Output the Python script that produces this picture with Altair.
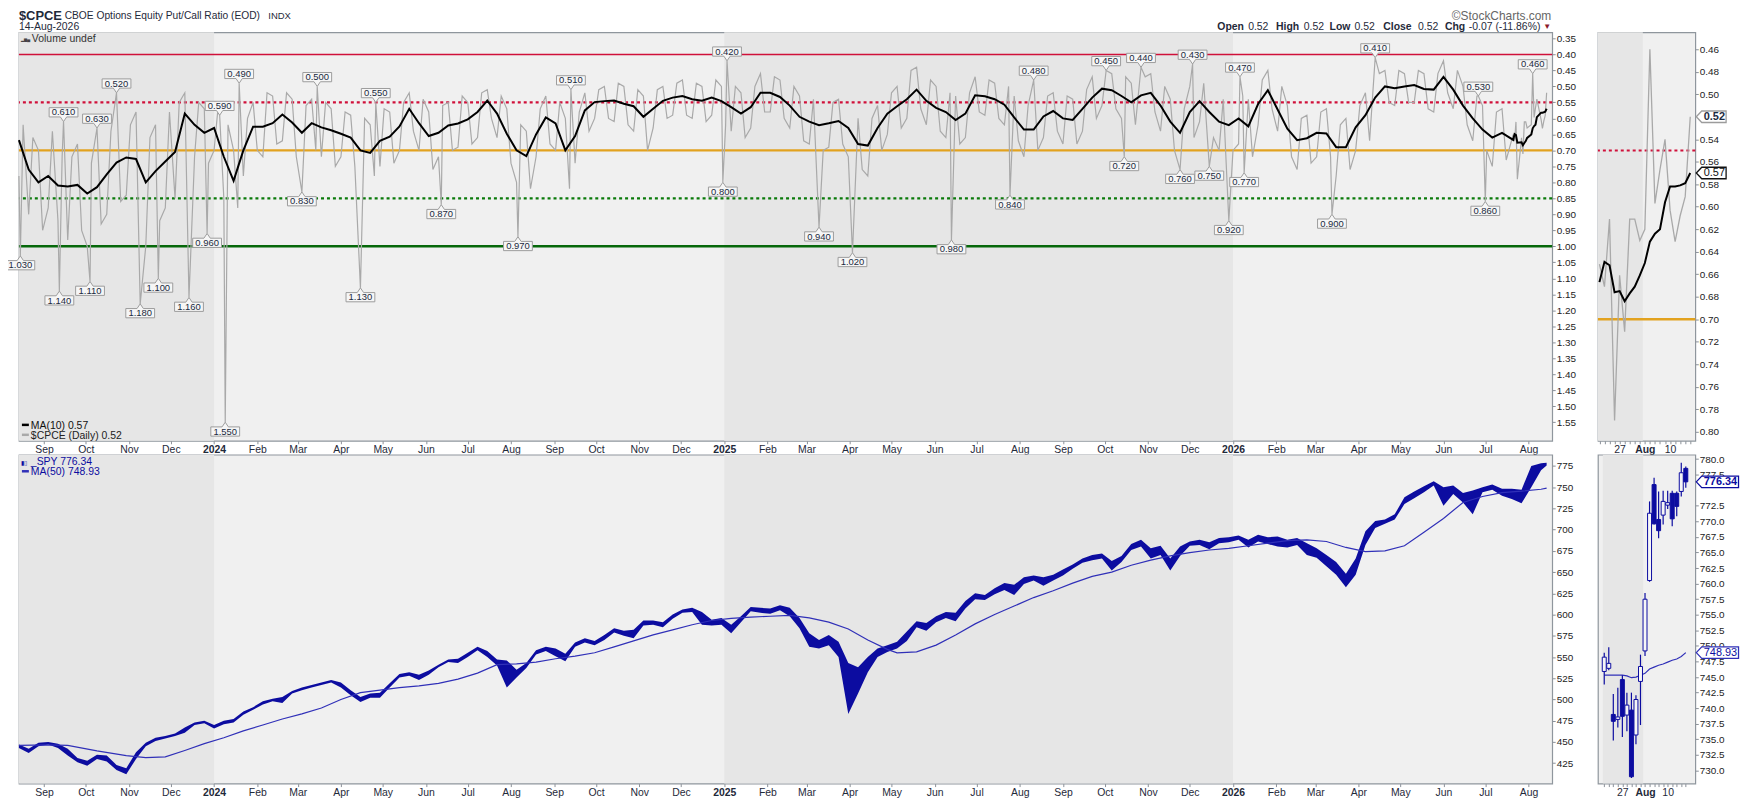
import altair as alt
import pandas as pd

FONT = "Liberation Sans"
NAVY = "#0c0ca0"
MA_BLUE = "#3030b8"
START = pd.Timestamp("2023-08-14")

# ---------------- $CPCE data ----------------
# 10-day MA, weekly readings (Mondays from 2023-08-14)
cpce_ma10_weekly = [
    0.668, 0.76, 0.80, 0.78, 0.81, 0.813, 0.808, 0.835, 0.815, 0.775,
    0.738, 0.722, 0.727, 0.80, 0.765, 0.735, 0.705, 0.585, 0.62, 0.645,
    0.63, 0.72, 0.795, 0.70, 0.626, 0.626, 0.615, 0.588, 0.613, 0.645,
    0.615, 0.628, 0.637, 0.648, 0.66, 0.70, 0.708, 0.67, 0.657, 0.625,
    0.57, 0.615, 0.655, 0.645, 0.622, 0.616, 0.603, 0.58, 0.544, 0.585,
    0.648, 0.70, 0.718, 0.65, 0.597, 0.616, 0.70, 0.655, 0.575, 0.549,
    0.546, 0.544, 0.554, 0.562, 0.595, 0.57, 0.545, 0.535, 0.53, 0.54,
    0.545, 0.535, 0.546, 0.565, 0.585, 0.565, 0.52, 0.52, 0.533, 0.56,
    0.595, 0.61, 0.621, 0.615, 0.608, 0.63, 0.68, 0.685, 0.63, 0.585,
    0.562, 0.54, 0.51, 0.545, 0.567, 0.58, 0.605, 0.585, 0.528, 0.531,
    0.54, 0.557, 0.597, 0.635, 0.635, 0.594, 0.577, 0.60, 0.605, 0.57,
    0.535, 0.507, 0.512, 0.53, 0.55, 0.528, 0.52, 0.56, 0.61, 0.645,
    0.58, 0.546, 0.58, 0.61, 0.621, 0.60, 0.625, 0.555, 0.512, 0.572,
    0.632, 0.668, 0.662, 0.645, 0.647, 0.69, 0.69, 0.628, 0.59, 0.535,
    0.50, 0.506, 0.50, 0.496, 0.508, 0.51, 0.47, 0.51, 0.56, 0.60,
    0.635, 0.66, 0.645]

# daily ratio, two readings per week (Mon, Thu)
cpce_mon = [
    0.78, 0.90, 0.70, 0.88, 0.92, 0.98, 0.68, 1.00, 0.70, 0.90,
    0.60, 0.84, 0.58, 1.00, 0.62, 0.88, 0.85, 0.52, 0.72, 0.57,
    0.70, 0.85, 0.70, 0.78, 0.55, 0.72, 0.53, 0.67, 0.54, 0.74,
    0.54, 0.72, 0.57, 0.72, 0.59, 0.80, 0.62, 0.75, 0.58, 0.70,
    0.52, 0.70, 0.58, 0.72, 0.55, 0.69, 0.55, 0.66, 0.51, 0.66,
    0.57, 0.80, 0.64, 0.72, 0.53, 0.70, 0.60, 0.74, 0.52, 0.60,
    0.50, 0.61, 0.50, 0.64, 0.53, 0.63, 0.50, 0.59, 0.48, 0.60,
    0.50, 0.59, 0.50, 0.64, 0.52, 0.63, 0.46, 0.58, 0.48, 0.63,
    0.53, 0.68, 0.56, 0.69, 0.54, 0.72, 0.60, 0.78, 0.56, 0.65,
    0.50, 0.60, 0.44, 0.62, 0.50, 0.66, 0.53, 0.66, 0.47, 0.59,
    0.49, 0.62, 0.53, 0.72, 0.57, 0.66, 0.52, 0.68, 0.54, 0.64,
    0.47, 0.56, 0.46, 0.60, 0.49, 0.59, 0.46, 0.64, 0.54, 0.73,
    0.50, 0.61, 0.51, 0.70, 0.55, 0.68, 0.54, 0.62, 0.45, 0.64,
    0.56, 0.76, 0.59, 0.72, 0.57, 0.78, 0.60, 0.70, 0.52, 0.60,
    0.45, 0.56, 0.46, 0.55, 0.46, 0.58, 0.42, 0.57, 0.50, 0.67,
    0.56, 0.75, 0.57]
cpce_thu = [
    0.62, 0.66, 0.95, 0.64, 0.72, 0.72, 0.95, 0.74, 0.93, 0.64,
    0.86, 0.62, 0.88, 0.66, 0.92, 0.58, 0.55, 0.66, 0.55, 0.74,
    0.56, 0.62, 0.88, 0.60, 0.70, 0.52, 0.68, 0.52, 0.72, 0.56,
    0.70, 0.55, 0.75, 0.58, 0.75, 0.60, 0.78, 0.57, 0.74, 0.55,
    0.64, 0.54, 0.76, 0.56, 0.70, 0.53, 0.68, 0.52, 0.60, 0.53,
    0.74, 0.62, 0.82, 0.57, 0.68, 0.55, 0.82, 0.58, 0.64, 0.51,
    0.60, 0.49, 0.62, 0.51, 0.70, 0.51, 0.60, 0.49, 0.59, 0.49,
    0.61, 0.48, 0.62, 0.50, 0.66, 0.50, 0.58, 0.47, 0.60, 0.50,
    0.67, 0.54, 0.70, 0.55, 0.68, 0.56, 0.76, 0.60, 0.70, 0.52,
    0.63, 0.45, 0.57, 0.48, 0.64, 0.52, 0.68, 0.52, 0.58, 0.48,
    0.60, 0.50, 0.67, 0.56, 0.70, 0.53, 0.64, 0.53, 0.68, 0.51,
    0.60, 0.46, 0.57, 0.47, 0.62, 0.47, 0.58, 0.50, 0.70, 0.57,
    0.66, 0.49, 0.66, 0.54, 0.70, 0.53, 0.72, 0.48, 0.57, 0.50,
    0.72, 0.60, 0.74, 0.58, 0.72, 0.62, 0.76, 0.56, 0.67, 0.46,
    0.55, 0.45, 0.55, 0.45, 0.57, 0.46, 0.52, 0.45, 0.62, 0.53,
    0.70, 0.58, 0.73]

# labelled extremes
spike_dates = [
    "2023-08-15", "2023-09-12", "2023-09-15", "2023-10-04", "2023-10-09",
    "2023-10-23", "2023-11-09", "2023-11-22", "2023-12-14", "2023-12-27",
    "2024-01-05", "2024-01-09", "2024-01-19", "2024-03-04", "2024-03-15",
    "2024-04-15", "2024-04-26", "2024-06-12", "2024-08-06", "2024-09-13",
    "2024-12-31", "2025-01-03", "2025-03-10", "2025-04-03", "2025-06-13",
    "2025-07-25", "2025-08-11", "2025-10-02", "2025-10-15", "2025-10-27",
    "2025-11-24", "2025-12-03", "2025-12-15", "2025-12-29", "2026-01-06",
    "2026-01-09", "2026-03-13", "2026-04-13", "2026-06-26", "2026-07-01"]
spike_values = [
    1.03, 1.14, 0.61, 1.11, 0.63,
    0.52, 1.18, 1.10, 1.16, 0.96,
    0.59, 1.55, 0.49, 0.83, 0.50,
    1.13, 0.55, 0.87, 0.97, 0.51,
    0.80, 0.42, 0.94, 1.02, 0.98,
    0.84, 0.48, 0.45, 0.72, 0.44,
    0.76, 0.43, 0.75, 0.92, 0.47,
    0.77, 0.90, 0.41, 0.53, 0.86]

# last 19 sessions (also shown in the zoom panel)
last_dates = ["2026-07-21", "2026-07-22", "2026-07-23", "2026-07-24", "2026-07-27",
              "2026-07-28", "2026-07-29", "2026-07-30", "2026-07-31", "2026-08-03",
              "2026-08-04", "2026-08-05", "2026-08-06", "2026-08-07", "2026-08-10",
              "2026-08-11", "2026-08-12", "2026-08-13", "2026-08-14"]
last_cpce = [0.651, 0.671, 0.611, 0.790, 0.661, 0.711, 0.611, 0.611, 0.630, 0.620,
             0.460, 0.597, 0.567, 0.540, 0.603, 0.631, 0.608, 0.591, 0.520]
last_ma10 = [0.667, 0.649, 0.652, 0.676, 0.675, 0.684, 0.677, 0.671, 0.661, 0.650,
             0.631, 0.624, 0.620, 0.596, 0.582, 0.582, 0.581, 0.579, 0.570]

# ---------------- SPY data (weekly low / high) ----------------
spy_low = [
    443, 437, 445, 447, 443, 434, 426, 422, 430, 427,
    417, 412, 430, 445, 451, 454, 457, 461, 470, 472,
    466, 471, 473, 482, 488, 494, 498, 496, 507, 511,
    514, 517, 520, 514, 505, 497, 502, 502, 514, 526,
    528, 523, 529, 538, 544, 543, 550, 558, 550, 540,
    514, 526, 537, 553, 557, 551, 545, 562, 567, 564,
    570, 579, 575, 572, 587, 588, 585, 595, 602, 603,
    588, 587, 588, 578, 591, 604, 602, 601, 605, 598,
    584, 562, 560, 564, 550, 483, 507, 532, 550, 556,
    560, 569, 585, 581, 591, 596, 592, 607, 618, 617,
    624, 629, 623, 636, 640, 634, 640, 646, 654, 661,
    664, 666, 652, 662, 676, 680, 666, 670, 652, 669,
    681, 682, 677, 684, 685, 688, 679, 686, 683, 680,
    679, 682, 670, 667, 657, 647, 632, 647, 682, 702,
    707, 712, 730, 737, 744, 752, 728, 742, 732, 718,
    744, 747, 740, 736, 731, 750, 770]
spy_high = [
    447, 442, 449, 450, 448, 442, 431, 428, 435, 434,
    423, 419, 438, 449, 455, 457, 460, 467, 473, 475,
    470, 475, 477, 486, 491, 498, 501, 503, 510, 514,
    517, 520, 523, 520, 511, 503, 507, 508, 519, 530,
    532, 529, 534, 541, 547, 548, 555, 562, 557, 547,
    546, 535, 543, 558, 562, 560, 554, 567, 572, 569,
    576, 584, 581, 582, 593, 593, 591, 600, 606, 608,
    603, 594, 596, 588, 598, 609, 608, 607, 611, 608,
    596, 578, 570, 576, 568, 543, 538, 550, 560, 564,
    568, 580, 592, 590, 598, 603, 602, 616, 625, 623,
    631, 637, 635, 644, 646, 644, 647, 653, 659, 666,
    670, 672, 663, 669, 683, 688, 678, 681, 666, 680,
    686, 688, 685, 690, 691, 693, 688, 694, 691, 692,
    688, 690, 684, 678, 670, 662, 648, 666, 698, 710,
    712, 718, 738, 745, 751, 757, 750, 752, 743, 746,
    750, 753, 748, 748, 747, 775, 778]
spy_final_low, spy_final_high = 775.4, 778.8

spy_ma50_week = [0, 3, 5, 8, 11, 13, 15, 17, 19, 21, 23, 25, 27, 29, 31, 33, 35, 37, 39, 41,
                 43, 45, 47, 49, 51, 53, 55, 57, 59, 61, 63, 65, 67, 69, 71, 73, 75, 77, 79, 81,
                 83, 85, 87, 89, 90, 92, 94, 96, 98, 100, 102, 104, 106, 108, 110, 112, 114, 116,
                 118, 120, 122, 124, 126, 128, 130, 132, 134, 136, 138, 140, 142, 144, 146, 148,
                 150, 152, 154, 156]
spy_ma50 = [446, 446.5, 446, 439.5, 434, 431.5, 432.5, 440, 448, 455, 463, 470, 477, 483, 490,
            500, 508, 511, 514, 516, 519, 524, 531, 541, 542, 544, 548, 551, 555, 562, 569, 576,
            582, 588, 593, 595.5, 597, 598, 599, 596, 591, 583, 570, 559, 555, 556, 564, 576,
            589, 600, 610, 620, 628, 637, 645, 650, 658, 664, 669, 673, 676, 678, 681, 684, 687,
            688, 686, 679, 674, 675, 681, 697, 713, 732, 739, 743.5, 745.2, 747.5]
spy_ma50_final = 748.93

# last 19 sessions candles
c_open = [745.9, 746.4, 739.0, 738.2, 744.6, 738.9, 739.7, 735.7, 744.3, 749.2,
          760.5, 775.9, 770.3, 771.0, 772.6, 774.5, 774.5, 774.8, 778.5]
c_high = [748.9, 749.8, 742.3, 743.3, 745.3, 742.5, 742.5, 742.1, 748.6, 758.5,
          773.2, 777.0, 774.8, 774.9, 774.9, 774.9, 774.8, 779.4, 778.8]
c_low = [743.8, 746.1, 734.8, 736.9, 735.4, 736.3, 728.8, 734.2, 737.3, 748.4,
         760.3, 769.5, 767.3, 769.5, 772.0, 769.2, 770.8, 774.0, 775.4]
c_close = [748.2, 747.2, 737.9, 738.6, 738.7, 740.5, 729.0, 741.4, 746.7, 757.5,
           771.3, 769.6, 768.5, 773.2, 773.0, 770.4, 772.4, 777.8, 776.34]
c_ma50 = [745.3, 745.3, 745.3, 745.3, 745.3, 745.2, 744.9, 745.0, 745.3, 745.6,
          746.3, 746.6, 746.9, 747.1, 747.4, 747.7, 747.9, 748.3, 748.93]

# ---------------- frames ----------------
def d2s(d):
    return pd.Timestamp(d).strftime("%Y-%m-%d")

weeks_c = [START + pd.Timedelta(days=7 * k) for k in range(len(cpce_mon))]
grey = {}
for k, d in enumerate(weeks_c):
    grey[d] = cpce_mon[k]
    grey[d + pd.Timedelta(days=3)] = cpce_thu[k]
for d, v in zip(spike_dates, spike_values):
    grey[pd.Timestamp(d)] = v
for d, v in zip(last_dates, last_cpce):
    grey[pd.Timestamp(d)] = v
grey_df = pd.DataFrame(sorted(grey.items()), columns=["date", "v"])
grey_df["date"] = grey_df["date"].map(d2s)

ma_df = pd.DataFrame({"date": [d2s(d) for d in weeks_c] + last_dates,
                      "v": cpce_ma10_weekly + last_ma10})

lab_dates = spike_dates + ["2026-08-04"]
lab_vals = spike_values + [0.46]
lab_df = pd.DataFrame({"date": lab_dates, "v": lab_vals})
lab_df["t"] = lab_df["v"].map(lambda x: f"{x:.3f}")
lab_df["side"] = ["up" if x < 0.66 else "dn" for x in lab_vals]

weeks_s = [START + pd.Timedelta(days=7 * k) for k in range(len(spy_low))]
spy_df = pd.DataFrame({"date": [d2s(d) for d in weeks_s] + ["2026-08-14"],
                       "v": spy_low + [spy_final_low], "hi": spy_high + [spy_final_high]})
ma50_df = pd.DataFrame({"date": [d2s(START + pd.Timedelta(days=7 * k)) for k in spy_ma50_week] + ["2026-08-14"],
                        "v": spy_ma50 + [spy_ma50_final]})

idx = list(range(len(last_dates)))
small_c_df = pd.DataFrame({"i": idx, "v": last_cpce, "m": last_ma10})
cand_df = pd.DataFrame({"i": idx, "o": c_open, "h": c_high, "v": c_low, "c": c_close, "m": c_ma50})
cand_df["down"] = cand_df["c"] < cand_df["o"]

shade_df = pd.DataFrame({"date": ["2023-08-14", "2025-01-01"], "e": ["2024-01-01", "2026-01-01"]})
one = pd.DataFrame({"a": [0]})

# ---------------- scales / axes ----------------
def ms(d):
    return int(pd.Timestamp(d, tz="UTC").timestamp() * 1000)

xscale = alt.Scale(type="utc", domain=[ms("2023-08-14"), ms("2026-08-18")], nice=False)
y_top = alt.Scale(domain=[0.331, 1.608], reverse=True, nice=False, zero=False)
y_bot = alt.Scale(domain=[401, 788.2], nice=False, zero=False)
xs_small = alt.Scale(domain=[-0.3, 19.0], nice=False, zero=False)
y_top_s = alt.Scale(domain=[0.445, 0.808], reverse=True, nice=False, zero=False)
y_bot_s = alt.Scale(domain=[727.9, 780.7], nice=False, zero=False)

DATE_AXIS = alt.Axis(orient="bottom", tickCount={"interval": "month", "step": 1},
                     labelExpr="utcmonth(datum.value) == 0 ? utcFormat(datum.value, '%Y') : utcFormat(datum.value, '%b')",
                     labelFontWeight={"condition": {"test": "utcmonth(datum.value) == 0", "value": "bold"}, "value": "normal"},
                     labelFont=FONT, labelFontSize=10.5, labelColor="#1f2a3a", tickSize=3,
                     tickColor="#8a9098", domain=False, grid=False, title=None, labelPadding=1,
                     labelOverlap=False, labelFlush=False)

SMALL_AXIS = alt.Axis(orient="bottom", values=idx,
                      labelExpr="datum.value == 4 ? '27' : datum.value == 9 ? 'Aug' : datum.value == 14 ? '10' : ''",
                      labelFontWeight={"condition": {"test": "datum.value == 9", "value": "bold"}, "value": "normal"},
                      labelFont=FONT, labelFontSize=10.5, labelColor="#1f2a3a", tickSize=3,
                      tickColor="#8a9098", domain=False, grid=False, title=None, labelPadding=1,
                      labelOverlap=False, labelFlush=False)

def yaxis(values, fmt):
    return alt.Axis(orient="right", values=values, format=fmt, labelFont=FONT, labelFontSize=10,
                    labelColor="#222222", tickSize=3, tickColor="#8a9098", domain=False, grid=False,
                    title=None, labelPadding=1, labelOverlap=False)

AX_TOP = yaxis([round(0.35 + 0.05 * i, 2) for i in range(25)], ".2f")
AX_BOT = yaxis(list(range(425, 776, 25)), "d")
AX_TOP_S = yaxis([0.46, 0.48, 0.50, 0.54, 0.56, 0.58, 0.60, 0.62, 0.64, 0.66, 0.68, 0.70,
                  0.72, 0.74, 0.76, 0.78, 0.80], ".2f")
AX_BOT_S = yaxis([730, 732.5, 735, 737.5, 740, 742.5, 745, 747.5, 750, 752.5, 755, 757.5,
                  760, 762.5, 765, 767.5, 770, 772.5, 777.5, 780], ".1f")

X = alt.X("date:T", scale=xscale, axis=DATE_AXIS)
XS = alt.X("i:Q", scale=xs_small, axis=SMALL_AXIS)
YT = alt.Y("v:Q", scale=y_top, axis=AX_TOP)
YB = alt.Y("v:Q", scale=y_bot, axis=AX_BOT)
YTS = alt.Y("v:Q", scale=y_top_s, axis=AX_TOP_S)
YBS = alt.Y("v:Q", scale=y_bot_s, axis=AX_BOT_S)

def txt(x, y, s, size=10.5, weight="normal", color="#1f2a3a", align="left", baseline="alphabetic"):
    return alt.Chart(one).mark_text(align=align, baseline=baseline, font=FONT, fontSize=size,
                                    fontWeight=weight, color=color).encode(
        x=alt.value(x), y=alt.value(y), text=alt.value(s))

def hrule(y, scale, axis, color, width, dash=None):
    kw = dict(color=color, strokeWidth=width)
    if dash:
        kw["strokeDash"] = dash
    return alt.Chart(one).mark_rule(**kw).encode(y=alt.YDatum(y, scale=scale, axis=axis))

def dash(x1, x2, y, color):
    return alt.Chart(one).mark_rule(color=color, strokeWidth=2.5).encode(
        x=alt.value(x1), x2=alt.value(x2), y=alt.value(y))

RED = "#d0103a"
ORANGE = "#e2a21f"
GREEN = "#0a7a0a"
DGREEN = "#06680a"

UP_PATH = "M-1.45,-1.4H1.45V-0.47H0.32L0,0L-0.32,-0.47H-1.45Z"
DN_PATH = "M-1.45,1.4H1.45V0.47H0.32L0,0L-0.32,0.47H-1.45Z"

# ---------------- top main ----------------
shade_top = alt.Chart(shade_df).mark_rect(color="#e6e6e6").encode(x=X, x2="e:T")
grey_line = alt.Chart(grey_df).mark_line(color="#a9a9a9", strokeWidth=1.2).encode(x=X, y=YT)
ma_line = alt.Chart(ma_df).mark_line(color="black", strokeWidth=2).encode(x=X, y=YT)

lab = alt.Chart(lab_df)
up_sym = lab.transform_filter("datum.side == 'up'").mark_point(
    shape=UP_PATH, size=400, filled=True, fill="#f6f6f6", stroke="#9c9c9c", strokeWidth=1, opacity=1).encode(x=X, y=YT)
dn_sym = lab.transform_filter("datum.side == 'dn'").mark_point(
    shape=DN_PATH, size=400, filled=True, fill="#f6f6f6", stroke="#9c9c9c", strokeWidth=1, opacity=1).encode(x=X, y=YT)
up_txt = lab.transform_filter("datum.side == 'up'").mark_text(
    dy=-9.3, baseline="middle", font=FONT, fontSize=9.5, color="#1a2a40").encode(x=X, y=YT, text="t:N")
dn_txt = lab.transform_filter("datum.side == 'dn'").mark_text(
    dy=9.6, baseline="middle", font=FONT, fontSize=9.5, color="#1a2a40").encode(x=X, y=YT, text="t:N")

top_texts = [
    txt(0, -12.5, "$CPCE", size=13, weight="bold"),
    txt(46, -13, "CBOE Options Equity Put/Call Ratio (EOD)", size=10.3),
    txt(251, -13, "INDX", size=9.5),
    txt(0, -2, "14-Aug-2026", size=10.5),
    txt(1542, -12.5, "\u00a9StockCharts.com", size=12, color="#666666", align="right"),
    txt(1206, -2.5, "Open", size=10.5, weight="bold"),
    txt(1237, -2.5, "0.52", size=10.5),
    txt(1265, -2.5, "High", size=10.5, weight="bold"),
    txt(1293, -2.5, "0.52", size=10.5),
    txt(1319, -2.5, "Low", size=10.5, weight="bold"),
    txt(1344, -2.5, "0.52", size=10.5),
    txt(1373, -2.5, "Close", size=10.5, weight="bold"),
    txt(1408, -2.5, "0.52", size=10.5),
    txt(1435, -2.5, "Chg", size=10.5, weight="bold"),
    txt(1459, -2.5, "-0.07 (-11.86%)", size=10.5),
    txt(1534, -3.5, "\u25bc", size=8, color="#8b1a2b"),
    txt(2, 9, "\u2582\u2586\u2584", size=4.5, color="#444444"),
    txt(13, 9.5, "Volume undef", size=10.5, color="#333333"),
    dash(3, 10, 395, "black"),
    txt(12, 398.8, "MA(10) 0.57", size=10.5, color="#111111"),
    dash(3, 10, 405, "#a9a9a9"),
    txt(12, 408.8, "$CPCE (Daily) 0.52", size=10.5, color="#222222"),
]

top_main = alt.layer(
    shade_top,
    hrule(0.40, y_top, AX_TOP, RED, 1.5),
    hrule(0.55, y_top, AX_TOP, RED, 2.2, [3, 3]),
    hrule(0.70, y_top, AX_TOP, ORANGE, 2.5),
    hrule(0.85, y_top, AX_TOP, GREEN, 2.2, [3, 3]),
    hrule(1.00, y_top, AX_TOP, DGREEN, 2.5),
    grey_line, ma_line, up_sym, dn_sym, up_txt, dn_txt, *top_texts
).properties(width=1543, height=411)

# ---------------- tags ----------------
def tag(v, label, stroke, bold, path, Y, color):
    d = pd.DataFrame({"v": [v], "t": [label]})
    sym = alt.Chart(d).mark_point(shape=path, size=400, filled=True, fill="white", stroke=stroke,
                                  strokeWidth=1.3, opacity=1).encode(x=alt.value(99), y=Y)
    t = alt.Chart(d).mark_text(align="left", baseline="middle", dx=7.5, font=FONT, fontSize=11,
                               fontWeight="bold" if bold else "normal", color=color).encode(
        x=alt.value(99), y=Y, text="t:N")
    return [sym, t]

TAG_S = "M0,0L0.55,-0.58H3.0V0.58H0.55Z"
TAG_L = "M0,0L0.55,-0.58H4.25V0.58H0.55Z"

small_shade_df = pd.DataFrame({"i": [-0.3], "e": [8.6]})
small_shade = alt.Chart(small_shade_df).mark_rect(color="#e6e6e6").encode(x=XS, x2="e:Q")

top_small = alt.layer(
    small_shade,
    hrule(0.55, y_top_s, AX_TOP_S, RED, 2.2, [3, 3]),
    hrule(0.70, y_top_s, AX_TOP_S, ORANGE, 2.5),
    alt.Chart(small_c_df).mark_line(color="#a9a9a9", strokeWidth=1.3).encode(x=XS, y=YTS),
    alt.Chart(small_c_df).mark_line(color="black", strokeWidth=2).encode(
        x=XS, y=alt.Y("m:Q", scale=y_top_s, axis=AX_TOP_S)),
    *tag(0.52, "0.52", "#9c9c9c", True, TAG_S, YTS, "#1a2a40"),
    *tag(0.57, "0.57", "#111111", False, TAG_S, YTS, "#111111"),
).properties(width=98, height=411)

# ---------------- bottom main ----------------
shade_bot = alt.Chart(shade_df).mark_rect(color="#e6e6e6").encode(x=X, x2="e:T")
band = alt.Chart(spy_df).mark_area(color=NAVY, opacity=1).encode(x=X, y=YB, y2="hi:Q")
ma50_line = alt.Chart(ma50_df).mark_line(color=MA_BLUE, strokeWidth=1.2).encode(x=X, y=YB)
bot_texts = [
    txt(2, 10.5, "\u25ae\u25af", size=6, color=NAVY),
    txt(12, 10.5, "_SPY 776.34", size=10.5, color=NAVY),
    dash(3, 10, 16.7, MA_BLUE),
    txt(12, 20.5, "MA(50) 748.93", size=10.5, color=NAVY),
]
bot_main = alt.layer(shade_bot, band, ma50_line, *bot_texts).properties(width=1543, height=331)

# ---------------- bottom small ----------------
small_shade2 = alt.Chart(small_shade_df).mark_rect(color="#e6e6e6").encode(x=XS, x2="e:Q")
wick = alt.Chart(cand_df).mark_rule(color=NAVY, strokeWidth=1.2).encode(x=XS, y=YBS, y2="h:Q")
body = alt.Chart(cand_df).mark_bar(size=4, stroke=NAVY, strokeWidth=1).encode(
    x=XS, y=alt.Y("o:Q", scale=y_bot_s, axis=AX_BOT_S), y2="c:Q",
    fill=alt.condition("datum.down", alt.value(NAVY), alt.value("#f6f6f6")))
sma = alt.Chart(cand_df).mark_line(color=MA_BLUE, strokeWidth=1.2).encode(
    x=XS, y=alt.Y("m:Q", scale=y_bot_s, axis=AX_BOT_S))
bot_small = alt.layer(
    small_shade2, sma, wick, body,
    *tag(776.34, "776.34", NAVY, True, TAG_L, YBS, NAVY),
    *tag(748.93, "748.93", MA_BLUE, False, TAG_L, YBS, NAVY),
).properties(width=98, height=331)

chart = alt.concat(top_main, top_small, bot_main, bot_small, columns=2,
                   spacing={"row": 14, "column": 46}, bounds="flush").properties(
    padding={"left": -5, "top": -2, "right": 0, "bottom": 0},
    background="white",
).configure_view(fill="#f0f0f0", stroke="#8f969d", strokeWidth=1.2)

chart.save("out.html", embed_options={"renderer": "svg", "actions": False})
